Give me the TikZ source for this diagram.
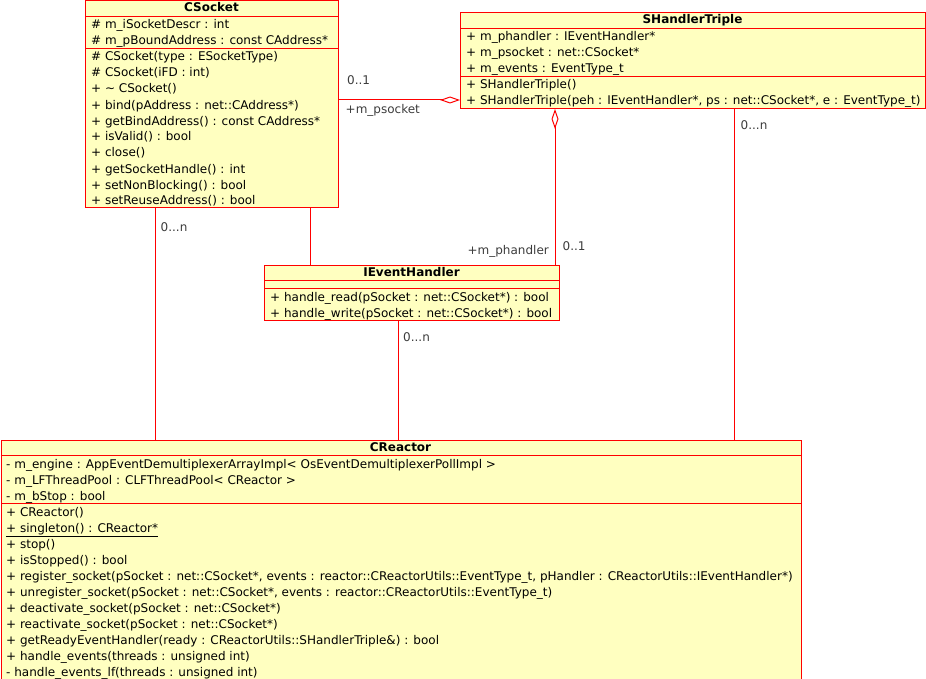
\documentclass[tikz,border=0pt]{standalone}
\usepackage{fontspec}
\setmainfont{DejaVu Sans}
\usepackage{tikz}
\usetikzlibrary{arrows.meta}

\definecolor{umlfill}{RGB}{255,255,192}
\definecolor{umlred}{RGB}{255,0,0}
\definecolor{multgrey}{RGB}{60,60,60}

\tikzset{
  classbox/.style={draw=umlred, fill=umlfill, line width=1pt, inner sep=0pt, anchor=north west},
  classline/.style={draw=umlred, line width=1pt},
  assoc/.style={draw=umlred, line width=1pt},
  aggr/.style={assoc, -{Diamond[open,length=20pt,width=7pt]}},
  classname/.style={anchor=base, inner sep=0pt, font=\fontsize{12}{16}\selectfont\bfseries},
  members/.style={anchor=base west, inner sep=0pt, align=left, font=\fontsize{12}{16}\selectfont},
  mult/.style={anchor=base west, inner sep=0pt, text=multgrey, font=\fontsize{12}{16}\selectfont},
}

\begin{document}
\begin{tikzpicture}[x=1pt,y=1pt,yscale=-1,xscale=1]
\useasboundingbox (0,0) rectangle (926,679);

%Class: CSocket
\node[classbox, minimum width=253pt, minimum height=207pt] (csocket) at (85,0.5) {};
\draw[classline] ([yshift=16pt]csocket.north west) -- ([yshift=16pt]csocket.north east);
\draw[classline] ([yshift=48pt]csocket.north west) -- ([yshift=48pt]csocket.north east);
\node[classname] (csocketname) at (211.5,12) {CSocket};
% members: placed at the baseline of their last line
\node[members] (csocketattr) at (91,45) {\# m\_iSocketDescr : int\\\# m\_pBoundAddress : const CAddress*};
\node[members] (csocketops) at (91,205) {\# CSocket(type : ESocketType)\\\# CSocket(iFD : int)\\+ \textasciitilde{} CSocket()\\+ bind(pAddress : net::CAddress*)\\+ getBindAddress() : const CAddress*\\+ isValid() : bool\\+ close()\\+ getSocketHandle() : int\\+ setNonBlocking() : bool\\+ setReuseAddress() : bool};

%Class: SHandlerTriple
\node[classbox, minimum width=465pt, minimum height=95.5pt] (shandler) at (460,12.5) {};
\draw[classline] ([yshift=16pt]shandler.north west) -- ([yshift=16pt]shandler.north east);
\draw[classline] ([yshift=64pt]shandler.north west) -- ([yshift=64pt]shandler.north east);
\node[classname] (shandlername) at (692.5,24) {SHandlerTriple};
\node[members] (shandlerattr) at (466,73) {+ m\_phandler : IEventHandler*\\+ m\_psocket : net::CSocket*\\+ m\_events : EventType\_t};
\node[members] (shandlerops) at (466,105) {+ SHandlerTriple()\\+ SHandlerTriple(peh : IEventHandler*, ps : net::CSocket*, e : EventType\_t)};

%Class: IEventHandler
\node[classbox, minimum width=295pt, minimum height=55pt] (ievent) at (264,264.5) {};
\draw[classline] ([yshift=16pt]ievent.north west) -- ([yshift=16pt]ievent.north east);
\draw[classline] ([yshift=24pt]ievent.north west) -- ([yshift=24pt]ievent.north east);
\node[classname] (ieventname) at (411.5,276) {IEventHandler};
\node[members] (ieventops) at (270,317) {+ handle\_read(pSocket : net::CSocket*) : bool\\+ handle\_write(pSocket : net::CSocket*) : bool};

%Class: CReactor
\node[classbox, minimum width=800.5pt, minimum height=239pt] (creactor) at (0.5,439.5) {};
\draw[classline] ([yshift=16pt]creactor.north west) -- ([yshift=16pt]creactor.north east);
\draw[classline] ([yshift=64pt]creactor.north west) -- ([yshift=64pt]creactor.north east);
\node[classname] (creactorname) at (400.5,451) {CReactor};
\node[members] (creactorattr) at (6,500) {- m\_engine : AppEventDemultiplexerArrayImpl< OsEventDemultiplexerPollImpl >\\- m\_LFThreadPool : CLFThreadPool< CReactor >\\- m\_bStop : bool};
\node[members] (creactorops) at (6,676) {+ CReactor()\\\underline{+ singleton() : CReactor*}\\+ stop()\\+ isStopped() : bool\\+ register\_socket(pSocket : net::CSocket*, events : reactor::CReactorUtils::EventType\_t, pHandler : CReactorUtils::IEventHandler*)\\+ unregister\_socket(pSocket : net::CSocket*, events : reactor::CReactorUtils::EventType\_t)\\+ deactivate\_socket(pSocket : net::CSocket*)\\+ reactivate\_socket(pSocket : net::CSocket*)\\+ getReadyEventHandler(ready : CReactorUtils::SHandlerTriple\&) : bool\\+ handle\_events(threads : unsigned int)\\- handle\_events\_lf(threads : unsigned int)};

%Connector ends
\coordinate (sockreact) at ([xshift=70pt]csocket.south west);
\coordinate (sockevent) at ([xshift=225pt]csocket.south west);
\coordinate (socktriple) at ([yshift=-4.5pt]csocket.east);
\coordinate (eventtriple) at ([xshift=291pt]ievent.north west);
\coordinate (triplereact) at ([xshift=274pt]shandler.south west);
\coordinate (eventreact) at ([xshift=134pt]ievent.south west);

%Connectors
\draw[assoc] (sockreact) -- (sockreact |- creactor.north);
\draw[assoc] (sockevent) -- (sockevent |- ievent.north);
\draw[aggr] (socktriple) -- (socktriple -| shandler.west);
\draw[aggr] (eventtriple) -- (eventtriple |- shandler.south);
\draw[assoc] (triplereact) -- (triplereact |- creactor.north);
\draw[assoc] (eventreact) -- (eventreact |- creactor.north);

%Multiplicities and roles
\node[mult] (psocketmult) at (347,84.5) {0..1};
\node[mult] (psocketrole) at (345.5,113.5) {+m\_psocket};
\node[mult] (reactsockmult) at (160.5,231) {0...n};
\node[mult] (reacttriplemult) at (740.5,129.5) {0...n};
\node[mult, anchor=base east] (phandlerrole) at (549,254.5) {+m\_phandler};
\node[mult] (phandlermult) at (562.5,250) {0..1};
\node[mult] (reacteventmult) at (403,341) {0...n};

\end{tikzpicture}
\end{document}
